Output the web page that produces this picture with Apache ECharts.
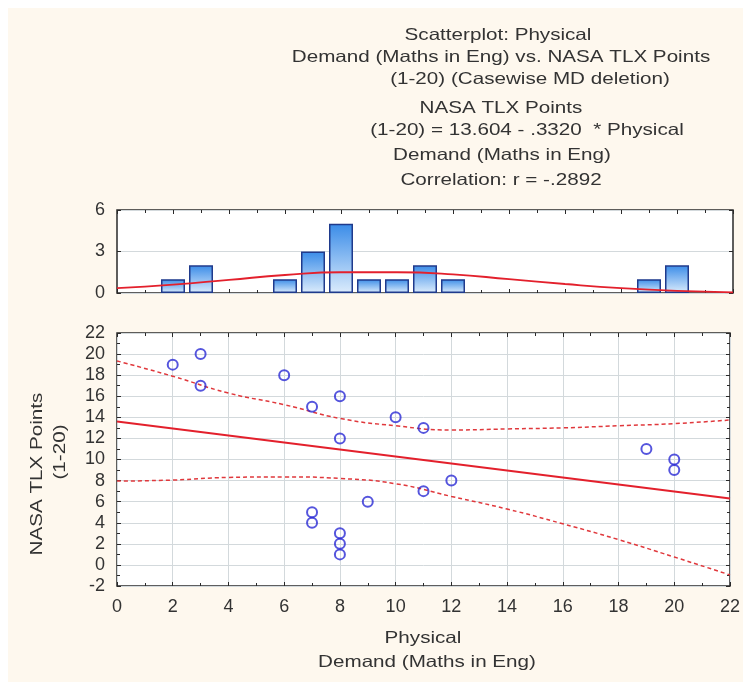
<!DOCTYPE html>
<html>
<head>
<meta charset="utf-8">
<script src="https://cdn.jsdelivr.net/npm/echarts@6/dist/echarts.min.js"></script>
<style>
  html, body { margin: 0; padding: 0; background: #ffffff; }
  #chart { width: 743px; height: 682px; }
</style>
</head>
<body>
<div id="chart"></div>
<script>
// Physical demand (x) vs NASA TLX points (y), one pair per respondent
const demandX = [2, 3, 3, 6, 7, 7, 7, 8, 8, 8, 8, 8, 9, 10, 11, 11, 12, 19, 20, 20];
const tlxY    = [19, 20, 17, 18, 15, 5, 4, 16, 12, 3, 2, 1, 6, 14, 13, 7, 8, 11, 10, 9];

// Histogram of physical demand (bin centre, frequency)
const histBins   = [2, 3, 6, 7, 8, 9, 10, 11, 12, 19, 20];
const histCounts = [1, 2, 1, 3, 5, 1, 1, 2, 1, 1, 2];

// Fitted normal curve over the histogram
const normalX = [0, 2, 4, 6, 8, 10, 12, 14, 16, 18, 20, 22];
const normalY = [0.35, 0.6, 0.95, 1.3, 1.5, 1.5, 1.35, 1.0, 0.65, 0.35, 0.15, 0.05];

// Regression: NASA TLX = 13.604 - .3320 * Physical Demand
const intercept = 13.604;
const slope = -0.3320;
const fitRange = [0, 22];

// 95% confidence band around the fit
const bandX     = [0, 2, 4, 6, 8, 10, 12, 14, 16, 18, 20, 22];
const bandUpper = [19.35, 17.9, 16.3, 15.2, 13.9, 13.2, 12.8, 12.9, 13.0, 13.2, 13.4, 13.75];
const bandLower = [7.95, 8.05, 8.3, 8.35, 8.2, 7.7, 6.5, 5.3, 3.9, 2.4, 0.75, -0.95];

// Tick settings
const xTicks = { min: 0, max: 22, interval: 2 };
const yTicks = { min: -2, max: 22, interval: 2 };
const histTicks = { min: 0, max: 6, interval: 3 };

// Text
const titleLines = [
  'Scatterplot: Physical',
  'Demand (Maths in Eng) vs. NASA TLX Points',
  '(1-20) (Casewise MD deletion)',
  'NASA TLX Points',
  '(1-20) = 13.604 - .3320  * Physical',
  'Demand (Maths in Eng)',
  'Correlation: r = -.2892'
];
const xNameLines = ['Physical', 'Demand (Maths in Eng)'];
const yNameLines = ['NASA TLX Points', '(1-20)'];

const FONT = '"Liberation Sans", Arial, sans-serif';
const TEXT = '#333333';
const GRIDLINE = '#d3d9dc';
const FRAME = '#2a2a2a';

const chart = echarts.init(document.getElementById('chart'), null, { renderer: 'canvas' });

function label(text, x, y, opts) {
  return Object.assign({
    type: 'text', x: x, y: y, scaleX: 1.25, silent: true,
    style: { text: text, fill: TEXT, font: '16.5px ' + FONT, align: 'center', verticalAlign: 'middle' }
  }, opts || {});
}

const titlePos = [[498, 35], [501, 57], [530, 79], [501, 108], [527, 130], [502, 155], [501, 180]];

const graphics = [
  { type: 'rect', shape: { x: 8, y: 8, width: 735, height: 674 }, style: { fill: '#fef8ee' }, z: -10, silent: true }
];
titleLines.forEach((t, i) => graphics.push(label(t, titlePos[i][0], titlePos[i][1])));
graphics.push(label(xNameLines[0], 423, 638));
graphics.push(label(xNameLines[1], 427, 662));
graphics.push(label(yNameLines[0], 37, 474, { rotation: Math.PI / 2 }));
graphics.push(label(yNameLines[1], 60, 452, { rotation: Math.PI / 2 }));

const tickInside = { show: true, inside: true, length: 4, lineStyle: { color: FRAME } };
const minorInside = { show: true, splitNumber: 2, length: 3, lineStyle: { color: FRAME } };
const labelStyle = { color: TEXT, fontSize: 18, fontFamily: FONT };

function frameAxis(extra) {
  return Object.assign({
    type: 'value', axisLine: { show: false, onZero: false }, axisLabel: { show: false },
    splitLine: { show: false }, axisTick: tickInside, minorTick: minorInside
  }, extra);
}

const option = {
  backgroundColor: '#ffffff',
  animation: false,
  graphic: graphics,
  grid: [
    { left: 117, top: 210, width: 616, height: 83, show: true, backgroundColor: '#ffffff', borderColor: FRAME, borderWidth: 1.5 },
    { left: 117, top: 333, width: 616, height: 253, show: true, backgroundColor: '#ffffff', borderColor: FRAME, borderWidth: 1.5 }
  ],
  xAxis: [
    frameAxis({ gridIndex: 0, position: 'bottom', min: xTicks.min, max: xTicks.max, interval: xTicks.interval }),
    frameAxis({ gridIndex: 0, position: 'top', min: xTicks.min, max: xTicks.max, interval: xTicks.interval }),
    frameAxis({
      gridIndex: 1, position: 'bottom', min: xTicks.min, max: xTicks.max, interval: xTicks.interval,
      axisLabel: Object.assign({ show: true, margin: 12 }, labelStyle),
      splitLine: { show: true, lineStyle: { color: GRIDLINE, width: 1 } }
    }),
    frameAxis({ gridIndex: 1, position: 'top', min: xTicks.min, max: xTicks.max, interval: xTicks.interval })
  ],
  yAxis: [
    frameAxis({
      gridIndex: 0, position: 'left', min: histTicks.min, max: histTicks.max, interval: histTicks.interval,
      axisLabel: Object.assign({ show: true, margin: 12 }, labelStyle),
      splitLine: { show: true, lineStyle: { color: GRIDLINE, width: 1 } },
      minorTick: { show: false }
    }),
    frameAxis({ gridIndex: 0, position: 'right', min: histTicks.min, max: histTicks.max, interval: histTicks.interval, minorTick: { show: false } }),
    frameAxis({
      gridIndex: 1, position: 'left', min: yTicks.min, max: yTicks.max, interval: yTicks.interval,
      axisLabel: Object.assign({ show: true, margin: 12 }, labelStyle),
      splitLine: { show: true, lineStyle: { color: GRIDLINE, width: 1 } }
    }),
    frameAxis({ gridIndex: 1, position: 'right', min: yTicks.min, max: yTicks.max, interval: yTicks.interval })
  ],
  series: [
    {
      type: 'bar', xAxisIndex: 0, yAxisIndex: 0, barWidth: 24,
      data: histBins.map((b, i) => [b, histCounts[i]]),
      itemStyle: {
        color: new echarts.graphic.LinearGradient(0, 0, 0, 1, [
          { offset: 0, color: '#3a8ce8' },
          { offset: 1, color: '#dcecfc' }
        ]),
        borderColor: '#1f3a8c', borderWidth: 1.5
      },
      z: 2
    },
    {
      type: 'line', xAxisIndex: 0, yAxisIndex: 0, smooth: true, symbol: 'none',
      data: normalX.map((x, i) => [x, normalY[i]]),
      lineStyle: { color: '#e3202c', width: 1.8 }, z: 3
    },
    {
      type: 'line', xAxisIndex: 2, yAxisIndex: 2, symbol: 'none',
      data: fitRange.map(x => [x, intercept + slope * x]),
      lineStyle: { color: '#e3202c', width: 2 }, z: 3
    },
    {
      type: 'line', xAxisIndex: 2, yAxisIndex: 2, smooth: true, symbol: 'none',
      data: bandX.map((x, i) => [x, bandUpper[i]]),
      lineStyle: { color: '#e0383c', width: 1.5, type: [4, 3] }, z: 3
    },
    {
      type: 'line', xAxisIndex: 2, yAxisIndex: 2, smooth: true, symbol: 'none',
      data: bandX.map((x, i) => [x, bandLower[i]]),
      lineStyle: { color: '#e0383c', width: 1.5, type: [4, 3] }, z: 3
    },
    {
      type: 'scatter', xAxisIndex: 2, yAxisIndex: 2, symbol: 'circle', symbolSize: 10,
      data: demandX.map((x, i) => [x, tlxY[i]]),
      itemStyle: { color: 'rgba(255,255,255,0)', borderColor: '#2b2bd4', borderWidth: 2 },
      z: 4
    }
  ]
};

chart.setOption(option);
</script>
</body>
</html>
